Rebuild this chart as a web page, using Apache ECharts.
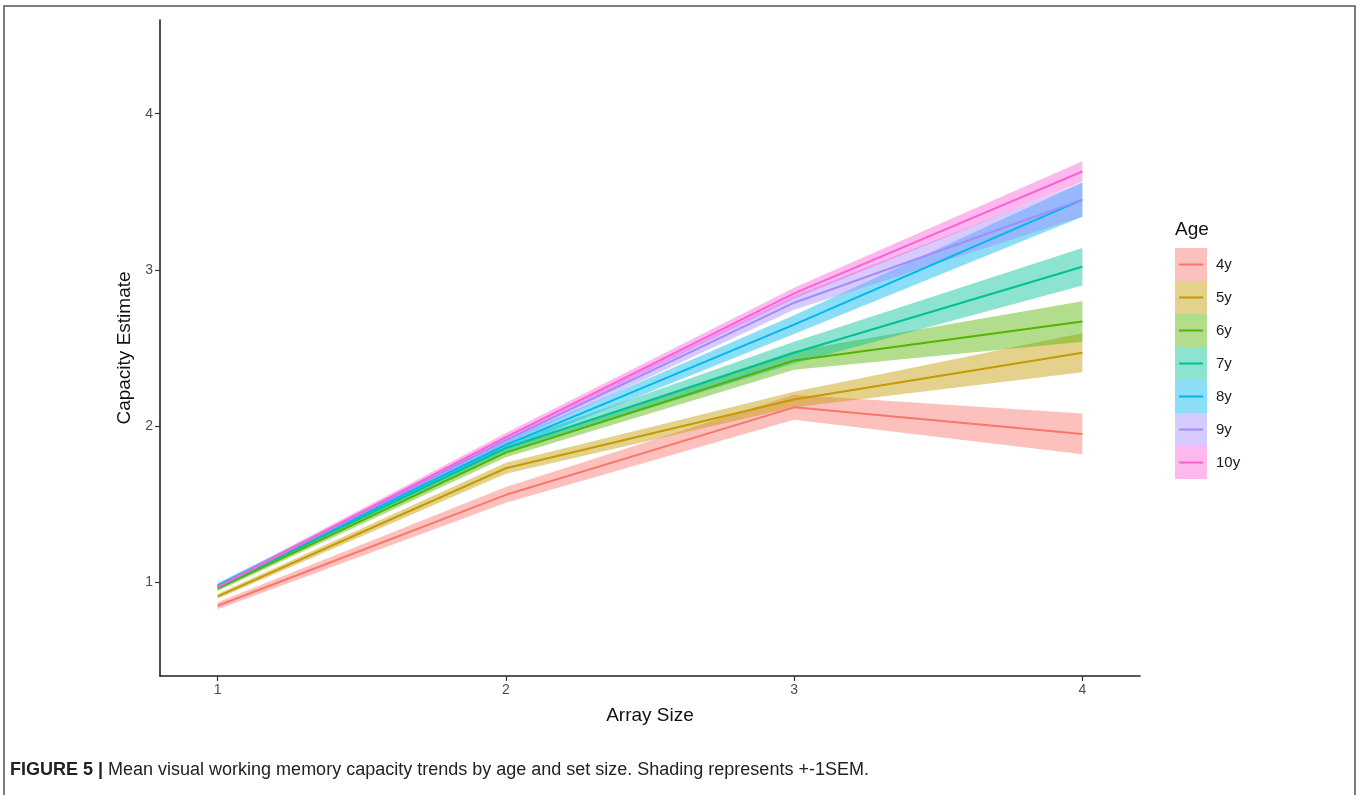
<!DOCTYPE html>
<html>
<head>
<meta charset="utf-8">
<script src="https://cdn.jsdelivr.net/npm/echarts@6/dist/echarts.min.js"></script>
<style>
html,body{margin:0;padding:0;background:#fff;}
#chart{width:1357px;height:795px;}
</style>
</head>
<body>
<div id="chart"></div>
<script>
// ---- data ----
const arraySizes = [1, 2, 3, 4];
const ageGroups = ['4y', '5y', '6y', '7y', '8y', '9y', '10y'];
const yTicks = [1, 2, 3, 4];
const xTicks = [1, 2, 3, 4];

const mean4y  = [0.85, 1.56, 2.12, 1.95];
const sem4y   = [0.022, 0.050, 0.080, 0.130];
const mean5y  = [0.91, 1.73, 2.17, 2.47];
const sem5y   = [0.015, 0.035, 0.050, 0.125];
const mean6y  = [0.96, 1.83, 2.42, 2.67];
const sem6y   = [0.015, 0.030, 0.060, 0.130];
const mean7y  = [0.97, 1.86, 2.47, 3.02];
const sem7y   = [0.015, 0.030, 0.070, 0.120];
const mean8y  = [0.98, 1.88, 2.65, 3.45];
const sem8y   = [0.015, 0.030, 0.060, 0.110];
const mean9y  = [0.97, 1.91, 2.79, 3.45];
const sem9y   = [0.015, 0.025, 0.045, 0.110];
const mean10y = [0.97, 1.93, 2.85, 3.63];
const sem10y  = [0.015, 0.025, 0.035, 0.065];

const means = [mean4y, mean5y, mean6y, mean7y, mean8y, mean9y, mean10y];
const sems  = [sem4y, sem5y, sem6y, sem7y, sem8y, sem9y, sem10y];
const colors = ['#F8766D', '#C49A00', '#53B400', '#00C094', '#00B6EB', '#A58AFF', '#FB61D7'];

function rgba(hex, a) {
  const r = parseInt(hex.slice(1, 3), 16), g = parseInt(hex.slice(3, 5), 16), b = parseInt(hex.slice(5, 7), 16);
  return 'rgba(' + r + ',' + g + ',' + b + ',' + a + ')';
}
const bandAlpha = 0.45;

// ---- series ----
const series = [];
ageGroups.forEach(function (name, i) {
  const bandData = arraySizes.map(function (x, j) {
    return [x, means[i][j] - sems[i][j], means[i][j] + sems[i][j]];
  });
  series.push({
    name: name, type: 'custom', silent: true, z: 1,
    data: bandData,
    encode: { x: 0, y: [1, 2] },
    itemStyle: { color: colors[i] },
    tooltip: { show: false },
    renderItem: function (params, api) {
      if (params.dataIndex !== 0) return null;
      const upper = bandData.map(function (d) { return api.coord([d[0], d[2]]); });
      const lower = bandData.map(function (d) { return api.coord([d[0], d[1]]); }).reverse();
      return {
        type: 'polygon',
        shape: { points: upper.concat(lower) },
        style: { fill: rgba(colors[i], bandAlpha), stroke: 'none' }
      };
    }
  });
});
ageGroups.forEach(function (name, i) {
  series.push({
    name: name, type: 'line', z: 3,
    data: arraySizes.map(function (x, j) { return [x, means[i][j]]; }),
    symbol: 'none',
    lineStyle: { width: 2, color: colors[i] },
    itemStyle: { color: colors[i] }
  });
});

const chart = echarts.init(document.getElementById('chart'), null, { renderer: 'canvas' });
const baseFont = 'Liberation Sans, Arial, Helvetica, sans-serif';

chart.setOption({
  animation: false,
  backgroundColor: '#ffffff',
  textStyle: { fontFamily: baseFont },
  graphic: [{
    type: 'rect', silent: true, z: -10,
    shape: { x: 4, y: 6, width: 1351, height: 820 },
    style: { fill: 'none', stroke: '#555555', lineWidth: 1.5 }
  }],
  title: [
    {
      text: 'Age', left: 1170, top: 215,
      textStyle: { fontSize: 19, fontWeight: 'normal', color: '#111', fontFamily: baseFont }
    },
    {
      text: '{b|FIGURE 5 |} Mean visual working memory capacity trends by age and set size. Shading represents +-1SEM.',
      left: 5, top: 756,
      textStyle: {
        fontSize: 18, fontWeight: 'normal', color: '#222', fontFamily: baseFont,
        rich: { b: { fontSize: 18, fontWeight: 'bold', color: '#222', fontFamily: baseFont } }
      }
    }
  ],
  grid: { left: 160, right: 217, top: 20, bottom: 119 },
  legend: [
    {
      orient: 'vertical', left: 1170, top: 243,
      itemWidth: 32, itemHeight: 33, itemGap: 0, icon: 'rect',
      textStyle: { fontSize: 15, color: '#1a1a1a', padding: [0, 0, 0, 4], fontFamily: baseFont },
      data: ageGroups.map(function (n, i) {
        return { name: n, icon: 'rect', itemStyle: { color: rgba(colors[i], bandAlpha), borderWidth: 0 } };
      })
    },
    {
      orient: 'vertical', left: 1174, top: 243,
      itemWidth: 24, itemHeight: 2, itemGap: 0, icon: 'rect',
      textStyle: { fontSize: 15, lineHeight: 33, color: 'rgba(0,0,0,0)', padding: [0, 0, 0, 4], fontFamily: baseFont },
      data: ageGroups.map(function (n, i) {
        return { name: n, icon: 'rect', itemStyle: { color: colors[i], borderWidth: 0 } };
      })
    }
  ],
  xAxis: {
    type: 'value', min: 0.8, max: 4.2,
    name: 'Array Size', nameLocation: 'middle', nameGap: 30,
    nameTextStyle: { fontSize: 19, color: '#111', fontFamily: baseFont },
    axisLine: { show: true, lineStyle: { color: '#222', width: 1.6 } },
    axisTick: { show: true, customValues: xTicks, length: 5, lineStyle: { color: '#333', width: 1.2 } },
    axisLabel: { customValues: xTicks, fontSize: 14, color: '#4D4D4D', margin: 7, fontFamily: baseFont },
    splitLine: { show: false }
  },
  yAxis: {
    type: 'value', min: 0.4, max: 4.6,
    name: 'Capacity Estimate', nameLocation: 'middle', nameGap: 25, nameRotate: 90,
    nameTextStyle: { fontSize: 19, color: '#111', fontFamily: baseFont },
    axisLine: { show: true, lineStyle: { color: '#222', width: 1.6 } },
    axisTick: { show: true, customValues: yTicks, length: 5, lineStyle: { color: '#333', width: 1.2 } },
    axisLabel: { customValues: yTicks, fontSize: 14, color: '#4D4D4D', margin: 7, fontFamily: baseFont },
    splitLine: { show: false }
  },
  series: series
});
</script>
</body>
</html>
